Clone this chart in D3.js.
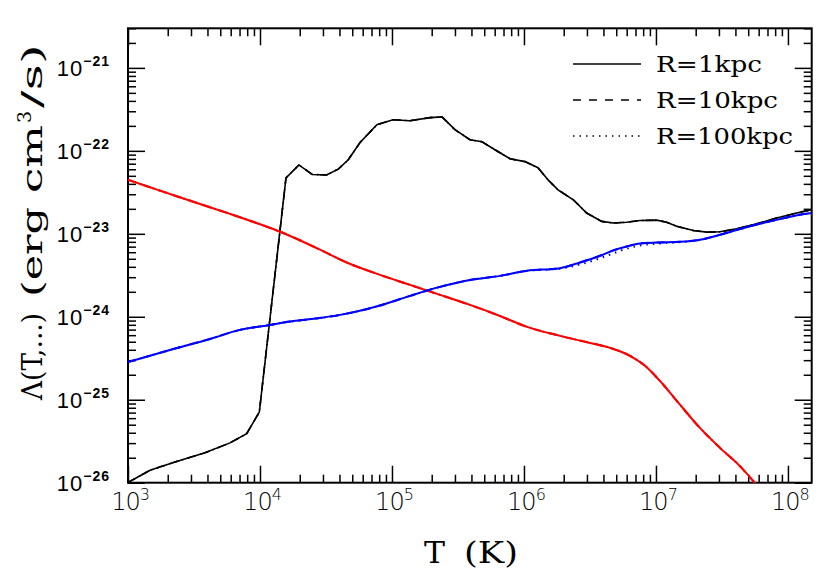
<!DOCTYPE html>
<html>
<head>
<meta charset="utf-8">
<script src="https://cdn.jsdelivr.net/npm/d3@7"></script>
<style>
  body { margin: 0; background: #fff; }
  svg { display: block; }
</style>
</head>
<body>
<svg id="chart"></svg>
<script>
// values, stored as log10(T) and log10(Lambda)
const blackLogT = [3.0, 3.167, 3.356, 3.583, 3.773, 3.899, 3.995, 4.197, 4.295, 4.396, 4.505, 4.593,
    4.669, 4.758, 4.886, 5.008, 5.136, 5.288, 5.379, 5.477, 5.591, 5.682, 5.78, 5.894, 6.008, 6.106,
    6.182, 6.258, 6.374, 6.475, 6.589, 6.677, 6.778, 6.879, 7.005, 7.081, 7.157, 7.283, 7.384, 7.485,
    7.611, 7.763, 7.914, 8.09, 8.18];
const blackLogL = [-25.997, -25.85, -25.75, -25.64, -25.52, -25.41, -25.149, -22.325, -22.17, -22.285,
    -22.29, -22.22, -22.107, -21.9, -21.685, -21.625, -21.637, -21.6, -21.59, -21.745, -21.866, -21.89,
    -21.987, -22.095, -22.13, -22.204, -22.349, -22.47, -22.59, -22.75, -22.85, -22.87, -22.86, -22.84,
    -22.835, -22.86, -22.91, -22.96, -22.98, -22.976, -22.94, -22.88, -22.81, -22.74, -22.71];

const redLogT = [3.0, 3.242, 3.545, 3.773, 4.0, 4.152, 4.43, 4.657, 4.909, 5.136, 5.364, 5.591, 5.818,
    6.023, 6.273, 6.5, 6.652, 6.803, 6.917, 7.03, 7.182, 7.333, 7.485, 7.636, 7.742, 7.8];
const redLogL = [-22.349, -22.48, -22.64, -22.76, -22.885, -22.975, -23.172, -23.346, -23.495, -23.615,
    -23.736, -23.857, -23.99, -24.122, -24.23, -24.315, -24.375, -24.47, -24.59, -24.773, -25.06, -25.34,
    -25.58, -25.8, -25.99, -26.11];

const blueLogT = [3.0, 3.318, 3.621, 3.848, 4.076, 4.227, 4.404, 4.606, 4.732, 4.909, 5.136, 5.364, 5.591,
    5.818, 6.023, 6.273, 6.424, 6.576, 6.677, 6.778, 6.879, 7.005, 7.182, 7.333, 7.485, 7.636, 7.788,
    7.939, 8.09, 8.18];
const blueLogL = [-24.546, -24.4, -24.267, -24.158, -24.098, -24.058, -24.025, -23.977, -23.937, -23.865,
    -23.748, -23.64, -23.557, -23.507, -23.446, -23.414, -23.346, -23.265, -23.2, -23.153, -23.117,
    -23.105, -23.097, -23.072, -23.012, -22.943, -22.879, -22.823, -22.77, -22.75];
// R=100kpc runs a little under the blue solid line around 10^6.5 - 10^7
const blueDotLogL = [-24.546, -24.4, -24.267, -24.158, -24.098, -24.058, -24.025, -23.977, -23.937, -23.865,
    -23.748, -23.64, -23.557, -23.507, -23.446, -23.42, -23.37, -23.295, -23.235, -23.18, -23.14,
    -23.12, -23.1, -23.074, -23.012, -22.943, -22.879, -22.823, -22.77, -22.75];

const xDecades = [3, 4, 5, 6, 7, 8];
const yDecades = [-26, -25, -24, -23, -22, -21];
const legendNames = ["R=1kpc", "R=10kpc", "R=100kpc"];

const W = 830, H = 585;
const x0 = 128, x1 = 811.7, y0 = 482.7, y1 = 28.3;

let svg = d3.select('#chart').attr('width', W).attr('height', H);

let scX = d3.scaleLog().domain([1e3, Math.pow(10, 8.18)]).range([x0, x1]);
let scY = d3.scaleLog().domain([1e-26, 3e-21]).range([y0, y1]);

svg.append('clipPath').attr('id', 'clip')
    .append('rect').attr('x', x0).attr('y', y1).attr('width', x1 - x0).attr('height', y0 - y1);

// major / minor tick values
let xMajor = xDecades.map(d => Math.pow(10, d));
let xMinor = [];
xDecades.forEach(d => { for (let k = 2; k <= 9; k++) { let v = k * Math.pow(10, d); if (v <= scX.domain()[1]) xMinor.push(v); } });
let yMajor = yDecades.map(d => Math.pow(10, d));
let yMinor = [];
yDecades.forEach(d => { for (let k = 2; k <= 9; k++) { let v = k * Math.pow(10, d); if (v <= 3.01e-21) yMinor.push(v); } });

function drawAxis(axisFn, scale, vals, size, tx, ty) {
    let g = svg.append('g').attr('transform', `translate(${tx},${ty})`)
        .call(axisFn(scale).tickValues(vals).tickSize(-size).tickFormat(''));
    g.select('.domain').remove();
    g.selectAll('.tick line').attr('stroke', '#000').attr('stroke-width', 1.5);
}
drawAxis(d3.axisBottom, scX, xMajor, 17, 0, y0);
drawAxis(d3.axisBottom, scX, xMinor, 8, 0, y0);
drawAxis(d3.axisTop, scX, xMajor, 17, 0, y1);
drawAxis(d3.axisTop, scX, xMinor, 8, 0, y1);
drawAxis(d3.axisLeft, scY, yMajor, 17, x0, 0);
drawAxis(d3.axisLeft, scY, yMinor, 8, x0, 0);
drawAxis(d3.axisRight, scY, yMajor, 17, x1, 0);
drawAxis(d3.axisRight, scY, yMinor, 8, x1, 0);

svg.append('rect').attr('x', x0).attr('y', y1).attr('width', x1 - x0).attr('height', y0 - y1)
    .attr('fill', 'none').attr('stroke', '#000').attr('stroke-width', 2);

// tick labels
let xl = svg.selectAll('text.xl').data(xDecades).enter().append('text')
    .attr('class', 'xl')
    .attr('x', d => scX(Math.pow(10, d)) + 2).attr('y', 510)
    .attr('text-anchor', 'middle')
    .style('font-family', '"DejaVu Sans", sans-serif').style('font-weight', 300)
    .style('font-size', '24px').style('letter-spacing', '-1px');
xl.append('tspan').text('10');
xl.append('tspan').attr('dy', -10).style('font-size', '16px').text(d => d);

let yl = svg.selectAll('text.yl').data(yDecades).enter().append('text')
    .attr('class', 'yl')
    .attr('x', 110).attr('y', d => scY(Math.pow(10, d)) + 8)
    .attr('text-anchor', 'end')
    .style('font-family', '"Liberation Sans", Arial, sans-serif').style('font-size', '22px')
    .style('letter-spacing', '1px');
yl.append('tspan').text('10');
yl.append('tspan').attr('dy', -10).style('font-size', '14px').style('font-weight', 'bold')
    .text(d => '\u2212' + Math.abs(d));

// axis titles (wide serif glyphs, stretched to the reference widths)
let xt = svg.append('g').style('font-family', '"DejaVu Serif", serif').style('font-size', '30px');
xt.append('text').attr('x', 424).attr('y', 563)
    .attr('textLength', 21).attr('lengthAdjust', 'spacingAndGlyphs').text('T');
xt.append('text').attr('x', 464).attr('y', 563)
    .attr('textLength', 54).attr('lengthAdjust', 'spacingAndGlyphs').text('(K)');

let yg = svg.append('g').attr('transform', 'translate(42,0) rotate(-90)')
    .style('font-family', '"DejaVu Serif", serif').style('font-size', '28px');
yg.append('text').attr('x', -400).attr('textLength', 87).attr('lengthAdjust', 'spacingAndGlyphs')
    .text('\u039B(T,...)');
yg.append('text').attr('x', -297).attr('textLength', 90).attr('lengthAdjust', 'spacingAndGlyphs')
    .text('(erg');
yg.append('text').attr('x', -193).attr('textLength', 68).attr('lengthAdjust', 'spacingAndGlyphs')
    .text('cm');
yg.append('text').attr('x', -123).attr('y', -11).style('font-size', '19px').text('3');
yg.append('text').attr('x', -108).attr('textLength', 64).attr('lengthAdjust', 'spacingAndGlyphs')
    .text('/s)');

// curves
let plot = svg.append('g').attr('clip-path', 'url(#clip)');
function pts(lt, ll) { return lt.map((t, i) => [Math.pow(10, t), Math.pow(10, ll[i])]); }
let lineSharp = d3.line().x(d => scX(d[0])).y(d => scY(d[1]));
let lineSmooth = d3.line().x(d => scX(d[0])).y(d => scY(d[1])).curve(d3.curveMonotoneX);

let dashes = [null, '8,8', '1.5,5'];
let series = [
    { lt: blackLogT, ll: [blackLogL, blackLogL, blackLogL], color: '#000', w: 1.6, gen: lineSharp },
    { lt: redLogT, ll: [redLogL, redLogL, redLogL], color: '#ff0000', w: 2, gen: lineSmooth },
    { lt: blueLogT, ll: [blueLogL, blueLogL, blueDotLogL], color: '#0000ff', w: 2, gen: lineSmooth },
];
series.forEach(s => {
    [2, 1, 0].forEach(r => {
        plot.append('path')
            .attr('d', s.gen(pts(s.lt, s.ll[r])))
            .attr('fill', 'none').attr('stroke', s.color).attr('stroke-width', s.w)
            .attr('stroke-dasharray', dashes[r]);
    });
});

// legend
let legW = [106, 122, 137];
let lg = svg.selectAll('g.leg').data(legendNames).enter().append('g')
    .attr('class', 'leg')
    .attr('transform', (d, i) => `translate(0,${64 + i * 36})`);
lg.append('line').attr('x1', 573).attr('x2', 641).attr('y1', 0).attr('y2', 0)
    .attr('stroke', '#000').attr('stroke-width', 1.6)
    .attr('stroke-dasharray', (d, i) => dashes[i]);
lg.append('text').attr('x', 656).attr('y', 8)
    .attr('textLength', (d, i) => legW[i]).attr('lengthAdjust', 'spacingAndGlyphs')
    .style('font-family', '"DejaVu Serif", serif').style('font-size', '23px')
    .text(d => d);
</script>
</body>
</html>
